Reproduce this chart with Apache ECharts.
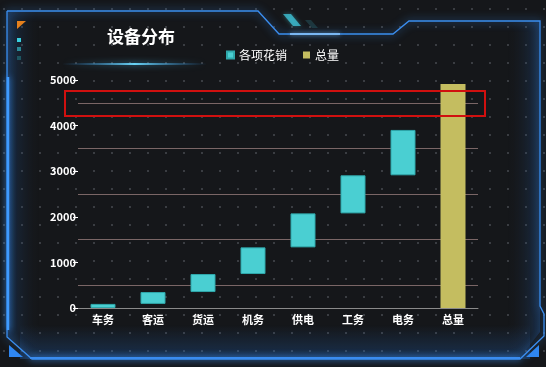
<!DOCTYPE html>
<html>
<head>
<meta charset="utf-8">
<script src="https://cdn.jsdelivr.net/npm/echarts@6/dist/echarts.min.js"></script>
<style>
html,body{margin:0;padding:0;width:546px;height:367px;overflow:hidden;}
body{background-color:#15171a;
background-image:radial-gradient(circle, #3a3d42 0.9px, rgba(0,0,0,0) 1.3px);
background-size:18px 18px;background-position:-5px 0px;}
#chart{width:546px;height:367px;}
</style>
</head>
<body>
<div id="chart"></div>
<script>
const categories = ['车务','客运','货运','机务','供电','工务','电务','总量'];
const baseValues = [0, 90, 350, 745, 1330, 2075, 2910, 0];
const costValues = [90, 260, 395, 585, 745, 835, 995, '-'];
const totalValues = ['-', '-', '-', '-', '-', '-', '-', 4910];
const yTicks = [0, 1000, 2000, 3000, 4000, 5000];

const chart = echarts.init(document.getElementById('chart'));
const font = '"Noto Sans CJK SC", "Noto Sans", sans-serif';
const frameBlue = '#3b8ef0';

const option = {
  backgroundColor: 'transparent',
  title: {
    text: '设备分布', left: 102, top: 23,
    textStyle: {color: '#ffffff', fontSize: 17, fontWeight: 'bold', fontFamily: font}
  },
  legend: {
    data: ['各项花销', '总量'], left: 221, top: 44,
    itemWidth: 7, itemHeight: 7, itemGap: 16, icon: 'rect',
    textStyle: {color: '#ffffff', fontSize: 12, fontFamily: font}
  },
  grid: {left: 78, right: 68, top: 80, bottom: 59},
  xAxis: {
    type: 'category', data: categories,
    axisLine: {lineStyle: {color: '#8a8a8a', width: 1}},
    axisTick: {show: false},
    axisLabel: {color: '#ffffff', fontSize: 11, fontWeight: 'bold', margin: 6, fontFamily: font}
  },
  yAxis: {
    type: 'value', min: yTicks[0], max: yTicks[yTicks.length - 1], interval: 1000,
    axisLine: {show: false},
    axisTick: {show: true, length: 5, lineStyle: {color: '#ffffff'}},
    axisLabel: {color: '#ffffff', fontSize: 11, fontWeight: 'bold', margin: 2, fontFamily: font,
      formatter: function (v) { return String(v); }},
    splitLine: {show: false},
    minorTick: {show: false, splitNumber: 2},
    minorSplitLine: {show: true, lineStyle: {color: '#7a6666', width: 1}}
  },
  series: [
    {name: '辅助', type: 'bar', stack: 'total', barWidth: '50%',
     itemStyle: {color: 'transparent'}, emphasis: {disabled: true}, data: baseValues},
    {name: '各项花销', type: 'bar', stack: 'total', barWidth: '50%',
     itemStyle: {color: '#4acfd2', borderColor: '#2fa8ab', borderWidth: 1}, data: costValues},
    {name: '总量', type: 'bar', stack: 'total', barWidth: '50%',
     itemStyle: {color: '#c4bd60'}, data: totalValues}
  ],
  graphic: [
    {type: 'polygon', z: -5, silent: true,
     shape: {points: [[7,11],[258,11],[279,34],[393,34],[409,21],[540,21],[540,332],[519,359],[32,359],[7,337]]},
     style: {fill: new echarts.graphic.LinearGradient(0,0,1,0,[
        {offset:0, color:'rgba(40,110,200,0.28)'},{offset:0.06, color:'rgba(30,40,55,0.0)'},
        {offset:0.94, color:'rgba(30,40,55,0.0)'},{offset:1, color:'rgba(40,110,200,0.28)'}])}},
    {type: 'rect', z: -5, silent: true, shape: {x: 20, y: 325, width: 510, height: 34},
     style: {fill: new echarts.graphic.LinearGradient(0,0,0,1,[
        {offset:0, color:'rgba(40,110,200,0)'},{offset:1, color:'rgba(40,110,200,0.3)'}])}},
    {type: 'polyline', z: -4, silent: true,
     shape: {points: [[7,11],[258,11],[279,34],[393,34],[409,21],[540,21],[540,306],[544,314],[544,336],[520,359],[32,359],[7,337],[7,11]]},
     style: {stroke: frameBlue, lineWidth: 1.3, fill: null, shadowBlur: 8, shadowColor: 'rgba(60,150,255,0.8)'}},
    {type: 'polyline', z: -3, silent: true, shape: {points: [[8,77],[8,330]]},
     style: {stroke: '#3f9bff', lineWidth: 2.5, shadowBlur: 6, shadowColor: 'rgba(60,150,255,0.9)'}},
    {type: 'polyline', z: -3, silent: true, shape: {points: [[30,358],[520,358]]},
     style: {stroke: '#3a8cf0', lineWidth: 2, shadowBlur: 6, shadowColor: 'rgba(60,150,255,0.9)'}},
    {type: 'polyline', z: -3, silent: true, shape: {points: [[290,34],[340,34]]},
     style: {stroke: '#8ec8ff', lineWidth: 1.5, shadowBlur: 4, shadowColor: 'rgba(120,190,255,0.9)'}},
    {type: 'polygon', z: -3, silent: true, shape: {points: [[9,345],[23,357],[9,357]]},
     style: {fill: '#2f86f0'}},
    {type: 'polygon', z: -3, silent: true, shape: {points: [[539,345],[539,357],[526,357]]},
     style: {fill: '#2f86f0'}},
    {type: 'polygon', z: -3, silent: true, shape: {points: [[283,14],[291,14],[301,26],[293,26]]},
     style: {fill: 'rgba(64,200,220,0.75)', shadowBlur: 4, shadowColor: 'rgba(64,200,220,0.6)'}},
    {type: 'polygon', z: -3, silent: true, shape: {points: [[305,20],[311,20],[318,28],[312,28]]},
     style: {fill: 'rgba(64,200,220,0.18)'}},
    {type: 'polygon', z: -3, silent: true, shape: {points: [[17,21],[26,21],[17,29]]},
     style: {fill: '#e5801c'}},
    {type: 'rect', z: -3, silent: true, shape: {x: 17, y: 38, width: 4, height: 4}, style: {fill: '#38d0e0'}},
    {type: 'rect', z: -3, silent: true, shape: {x: 17, y: 47, width: 4, height: 4}, style: {fill: '#2a8a98'}},
    {type: 'rect', z: -3, silent: true, shape: {x: 17, y: 56, width: 4, height: 4}, style: {fill: '#1d5560'}},
    {type: 'rect', z: -3, silent: true, shape: {x: 62, y: 63, width: 145, height: 2},
     style: {fill: new echarts.graphic.LinearGradient(0,0,1,0,[
        {offset:0, color:'rgba(40,120,200,0)'},{offset:0.5, color:'rgba(110,220,255,0.95)'},{offset:1, color:'rgba(40,120,200,0)'}]),
        shadowBlur: 6, shadowColor: 'rgba(80,200,255,0.8)'}},
    {type: 'rect', z: 100, silent: true, shape: {x: 65, y: 91, width: 420, height: 25},
     style: {fill: null, stroke: '#d0100f', lineWidth: 2}}
  ]
};
chart.setOption(option);
</script>
</body>
</html>
